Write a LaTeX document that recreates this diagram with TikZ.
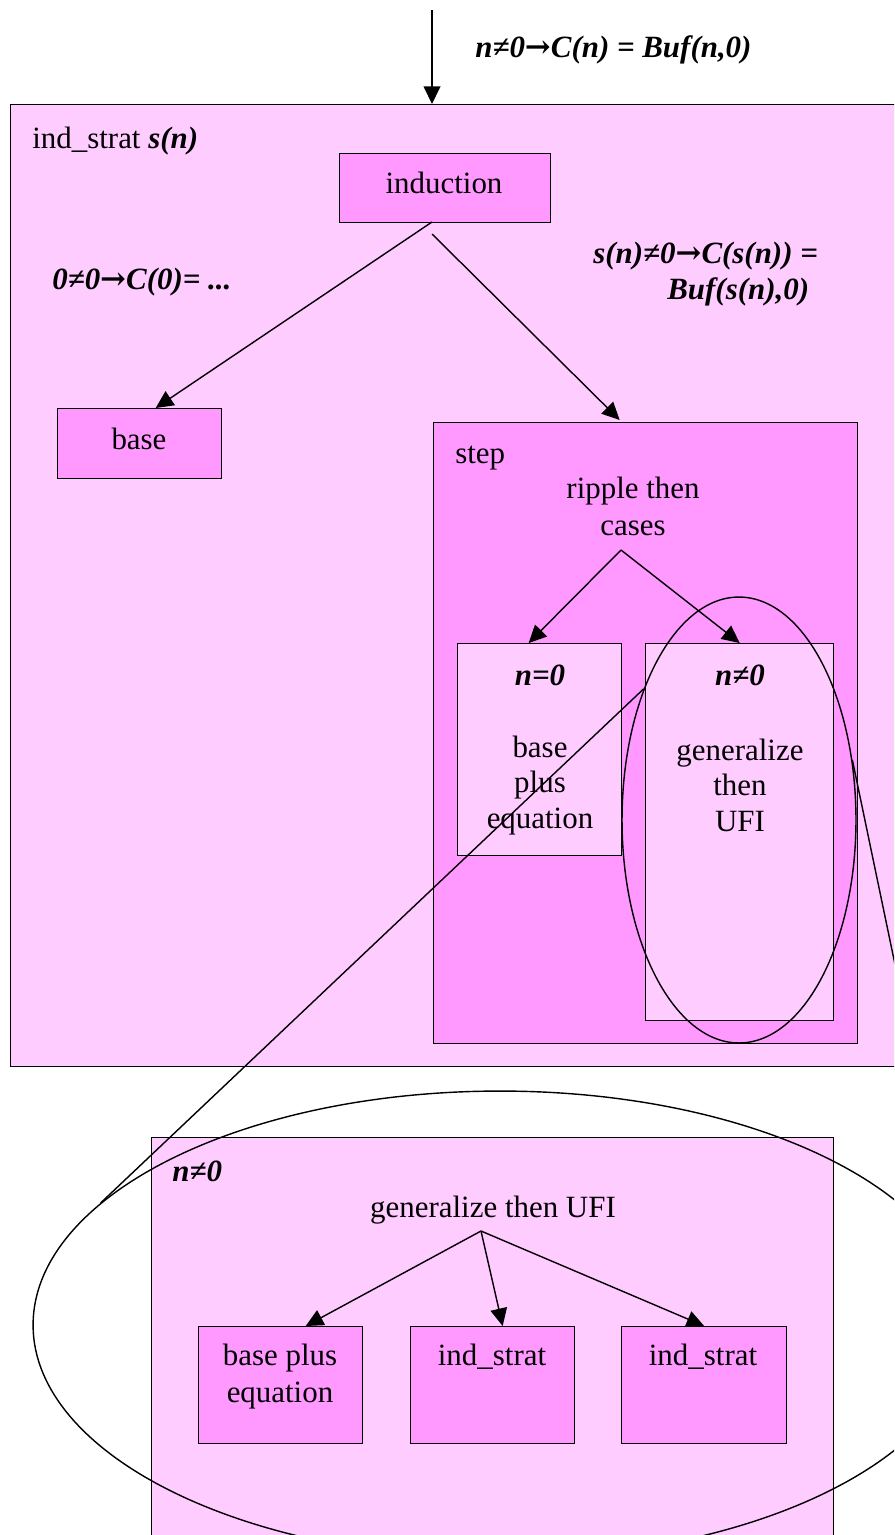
\documentclass[tikz,border=0pt]{standalone}
\usepackage{fontspec}
\setmainfont{Liberation Serif}
\newfontfamily\strelki{DejaVu Serif}
\usetikzlibrary{arrows.meta,shapes.geometric,calc}
\definecolor{svetlyj}{RGB}{255,204,255}
\definecolor{rozovyj}{RGB}{255,153,255}
\newcommand{\sled}{{\strelki\bfseries\upshape →}}
\tikzset{
  blok/.style={draw, line width=0.8pt, inner sep=0pt, anchor=north west},
  tekst/.style={inner sep=0pt, font=\fontsize{17.6}{20}\selectfont},
  formula/.style={inner sep=0pt, font=\fontsize{17.6}{20}\selectfont\bfseries\itshape},
  strelka/.style={line width=0.8pt, -{Triangle[length=10pt,width=9.5pt]}},
  oval/.style={draw, line width=0.8pt, ellipse, inner sep=0pt}
}
\begin{document}
\begin{tikzpicture}[x=0.02cm, y=-0.02cm]
\useasboundingbox (0,0) rectangle (894,1535); % размер картинки
\clip (0,0) rectangle (894,1535);
\fill[white] (0,0) rectangle (894,1535);

% внешняя стратегия
\node[blok, fill=svetlyj, minimum width=17.8cm, minimum height=19.24cm] (indstrat) at (10,104) {};
\node[tekst, anchor=base west] (indstrat-t) at (32,148) {ind\_strat \textbf{\textit{s(n)}}};
\coordinate (vhod) at (432,10);
\draw[strelka] (vhod) -- (vhod |- indstrat.north); % входящая стрелка
\node[formula, anchor=base west] (cel) at (475,57) {n≠0\sled C(n) = Buf(n,0)};

% индукция и база
\node[blok, fill=rozovyj, minimum width=4.22cm, minimum height=1.38cm] (induction) at (339,153) {};
\node[tekst, anchor=base] (induction-t) at (444,193) {induction};
\node[blok, fill=rozovyj, minimum width=3.28cm, minimum height=1.4cm] (base) at (57,408) {};
\node[tekst, anchor=base] (base-t) at (139,449) {base};
\node[formula, anchor=base west] (baza-usl) at (52,289) {0≠0\sled C(0)= ...};
\node[formula, anchor=base west] (shag-usl) at (593,263) {s(n)≠0\sled C(s(n)) =};
\node[formula, anchor=base west] (shag-usl2) at (667,299) {Buf(s(n),0)};

% шаг
\node[blok, fill=rozovyj, minimum width=8.48cm, minimum height=12.42cm] (step) at (433,422) {};
\node[tekst, anchor=base west] (step-t) at (455,463) {step};
\node[tekst, anchor=north, align=center, font=\fontsize{17.6}{21}\selectfont] (ripple) at (633,477) {ripple then\\cases};
\node[blok, fill=svetlyj, minimum width=3.28cm, minimum height=4.24cm] (n0) at (457,643) {};
\node[formula, anchor=base] (n0-t) at (540,685) {n=0};
\node[tekst, anchor=north, align=center] (n0-tt) at (540,736) {base\\plus\\equation};
\node[blok, fill=svetlyj, minimum width=3.76cm, minimum height=7.54cm] (nn0) at (645,643) {};
\node[formula, anchor=base] (nn0-t) at (740,685) {n≠0};
\node[tekst, anchor=north, align=center] (nn0-tt) at (740,739) {generalize\\then\\UFI};

\coordinate (ind-l) at (432,222);
\coordinate (ind-r) at (432,234);
\draw[strelka] (ind-l) -- ($(base.north)+(16,0)$);
\draw[strelka] (ind-r) -- ($(step.north)+(-26,-2)$);
\coordinate (razvilka) at (621,550);
\draw[strelka] (razvilka) -- ($(n0.north)+(-11,0)$);
\draw[strelka] (razvilka) -- (nn0.north);

\node[oval, minimum width=4.68cm, minimum height=8.92cm] (lupa) at (739,820) {}; % выделенный случай

% раскрытый случай n != 0
\node[blok, fill=svetlyj, minimum width=13.64cm, minimum height=8.6cm] (gen) at (151,1137) {};
\node[formula, anchor=base west] (gen-t) at (172,1181) {n≠0};
\node[tekst, anchor=base] (gen-tt) at (493,1217) {generalize then UFI};
\node[blok, fill=rozovyj, minimum width=3.28cm, minimum height=2.34cm] (bp) at (198,1326) {};
\node[tekst, anchor=north, align=center, font=\fontsize{17.6}{21}\selectfont] (bp-t) at (280,1344) {base plus\\equation};
\node[blok, fill=rozovyj, minimum width=3.28cm, minimum height=2.34cm] (is1) at (410,1326) {};
\node[tekst, anchor=base] (is1-t) at (492,1365) {ind\_strat};
\node[blok, fill=rozovyj, minimum width=3.3cm, minimum height=2.34cm] (is2) at (621,1326) {};
\node[tekst, anchor=base] (is2-t) at (703,1365) {ind\_strat};
\coordinate (razvilka2) at (481,1231);
\draw[strelka] (razvilka2) -- ($(bp.north)+(25,0)$);
\draw[strelka] (razvilka2) -- ($(is1.north)+(10,0)$);
\draw[strelka] (razvilka2) -- (is2.north);

\node[oval, minimum width=18.68cm, minimum height=9.36cm] (lupa2) at (500,1325) {}; % увеличение
\draw[line width=0.8pt] (lupa.126) -- (lupa2.163);
\draw[line width=0.8pt] (lupa.28) -- (lupa2.3);
\end{tikzpicture}
\end{document}
